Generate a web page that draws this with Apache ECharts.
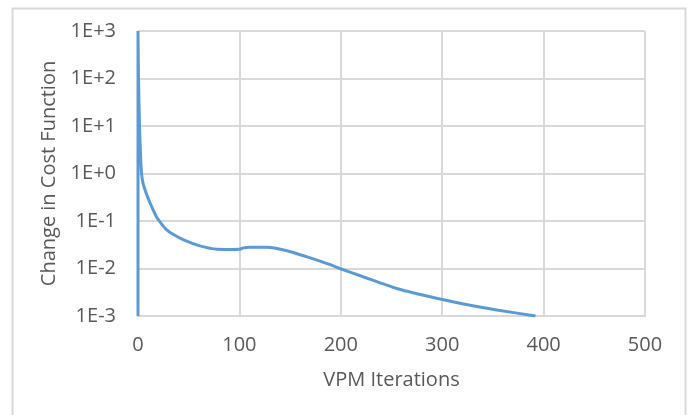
<!DOCTYPE html>
<html>
<head>
<meta charset="utf-8">
<script src="https://cdn.jsdelivr.net/npm/echarts@6/dist/echarts.min.js"></script>
<style>
html,body{margin:0;padding:0;background:#fff;}
#c{width:694px;height:415px;}
</style>
</head>
<body>
<div id="c"></div>
<script>
const iterations = [0, 0, 0.5, 1.5, 2.5, 3.5, 5, 7, 10, 14, 18, 23, 28, 35, 45, 61, 78, 90, 100, 104, 110, 127, 147, 166, 189, 199, 222, 255, 288, 321, 354, 392];
const costChange = [0.001, 1000, 100, 10, 2.5, 1, 0.62, 0.45, 0.3, 0.19, 0.125, 0.088, 0.066, 0.052, 0.04, 0.03, 0.0254, 0.0252, 0.0254, 0.0272, 0.028, 0.028, 0.0237, 0.0178, 0.0122, 0.010, 0.0067, 0.0038, 0.00255, 0.00179, 0.00134, 0.001];
const yTickLabels = {'-3':'1E-3','-2':'1E-2','-1':'1E-1','0':'1E+0','1':'1E+1','2':'1E+2','3':'1E+3'};
const xAxisTitle = 'VPM Iterations';
const yAxisTitle = 'Change in Cost Function';

const seriesData = iterations.map((x, i) => [x, costChange[i]]);
const font = 'Open Sans, Noto Sans, sans-serif';
const chart = echarts.init(document.getElementById('c'), null, {renderer: 'canvas'});
chart.setOption({
  animation: false,
  backgroundColor: '#fff',
  graphic: [{
    type: 'rect', left: 10, top: 6,
    shape: {width: 673, height: 420},
    style: {fill: 'none', stroke: '#d9d9d9', lineWidth: 2}
  }],
  grid: {left: 138, right: 49, top: 31, bottom: 99},
  xAxis: {
    type: 'value', min: 0, max: 500, interval: 100,
    name: xAxisTitle, nameLocation: 'middle', nameGap: 54,
    nameTextStyle: {color: '#595959', fontSize: 20, fontFamily: font},
    axisLine: {show: true, lineStyle: {color: '#d9d9d9', width: 2}},
    axisTick: {show: false},
    axisLabel: {color: '#595959', fontSize: 20, fontFamily: font, margin: 19},
    splitLine: {show: true, lineStyle: {color: '#d9d9d9', width: 2}}
  },
  yAxis: {
    type: 'log', logBase: 10, min: 0.001, max: 1000,
    name: yAxisTitle, nameLocation: 'middle', nameGap: 78, nameRotate: 90,
    nameTextStyle: {color: '#595959', fontSize: 20, fontFamily: font},
    axisLine: {show: false},
    axisTick: {show: false},
    axisLabel: {
      color: '#595959', fontSize: 20, fontFamily: font, margin: 22,
      formatter: v => yTickLabels[String(Math.round(Math.log10(v)))] || ''
    },
    splitLine: {show: true, lineStyle: {color: '#d9d9d9', width: 2}}
  },
  series: [{
    type: 'line', data: seriesData, showSymbol: false, smooth: 0.2,
    lineStyle: {color: '#5b9bd5', width: 3}
  }]
});
</script>
</body>
</html>
